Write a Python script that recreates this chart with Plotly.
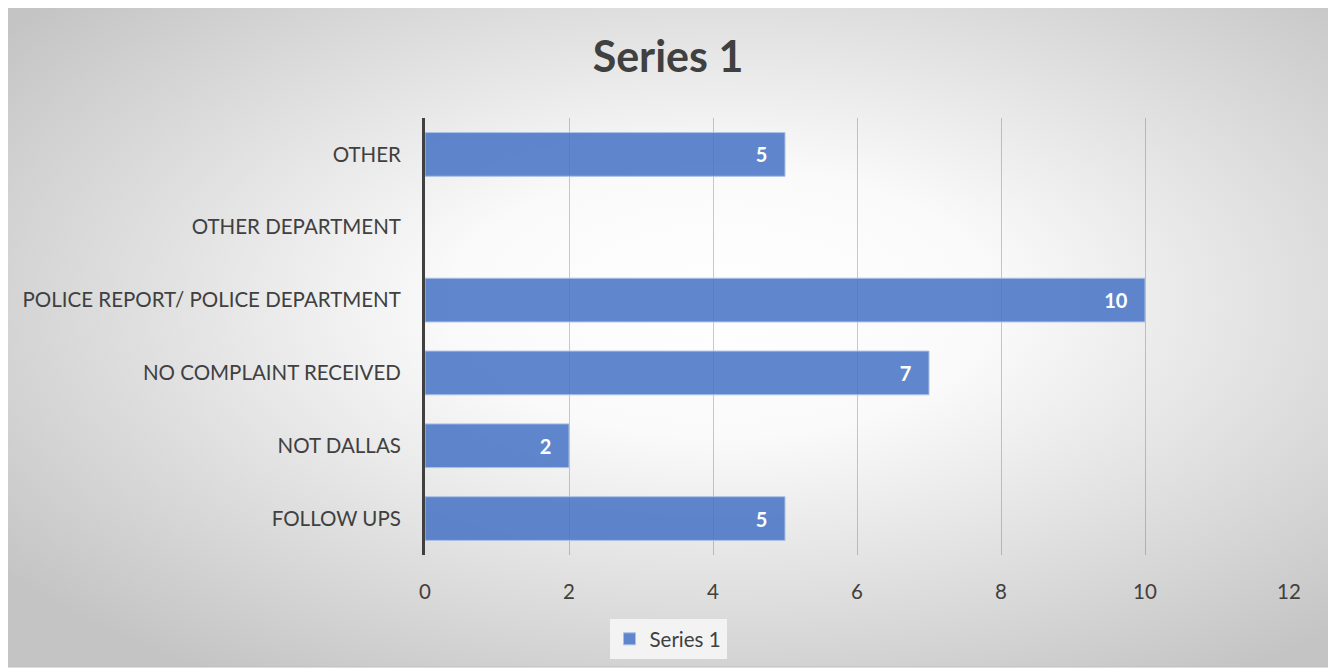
import base64
import plotly.graph_objects as go

categories = ["FOLLOW UPS", "NOT DALLAS", "NO COMPLAINT RECEIVED",
              "POLICE REPORT/ POLICE DEPARTMENT", "OTHER DEPARTMENT", "OTHER"]
values = [5, 2, 7, 10, None, 5]
labels = ["5", "2", "7", "10", "", "5"]
x_ticks = [0, 2, 4, 6, 8, 10, 12]
series_name = "Series 1"

OFF = 8  # page body margin offset
W, H = 1336 - OFF, 671 - OFF
L, R, T, B = 425 - OFF, 1289 - OFF, 118 - OFF, 555 - OFF  # plot area pixel edges
pw, ph = R - L, B - T

# frame (chart area) pixel edges
fx0, fy0, fx1, fy1 = 6 - OFF, 5 - OFF, 1330 - OFF, 667 - OFF

svg = f'''<svg xmlns="http://www.w3.org/2000/svg" width="{fx1-fx0}" height="{fy1-fy0}">
<defs><radialGradient id="g" cx="54%" cy="45%" r="68%">
<stop offset="0" stop-color="#ffffff"/><stop offset="0.3" stop-color="#fafafa"/>
<stop offset="1" stop-color="#c4c4c4"/></radialGradient></defs>
<rect width="100%" height="100%" fill="url(#g)"/></svg>'''
src = "data:image/svg+xml;base64," + base64.b64encode(svg.encode()).decode()

def px(x):
    return (x - OFF - L) / pw

def py(y):
    return (B - (y - OFF)) / ph

font = "Lato, 'Open Sans', sans-serif"
pad = "\u00a0" * 3

fig = go.Figure()
fig.add_trace(go.Bar(
    y=categories, x=values, orientation="h", name=series_name,
    text=[t + pad if t else "" for t in labels], textposition="inside", insidetextanchor="end",
    textfont=dict(color="white", size=20, family=font, weight="bold"),
    marker=dict(color="rgba(68,114,196,0.85)", line=dict(color="rgba(170,192,230,1)", width=1)),
    width=0.6, showlegend=True, cliponaxis=False,
))

fig.update_layout(
    width=W, height=H,
    margin=dict(l=L, r=W - R, t=T, b=H - B, pad=0),
    paper_bgcolor="white", plot_bgcolor="rgba(0,0,0,0)",
    font=dict(family=font, color="#404040", size=20),
    title=dict(text="<b>Series 1</b>", x=(668 - OFF) / W, xref="container", xanchor="center",
               y=1 - (57 - OFF) / H, yanchor="middle", font=dict(size=43, color="#404040", family=font)),
    xaxis=dict(range=[0, 12], tickvals=x_ticks, showgrid=True,
               gridcolor="rgba(90,90,90,0.32)", gridwidth=1, zeroline=False,
               showline=False, ticks="outside", ticklen=18, tickcolor="rgba(0,0,0,0)",
               tickfont=dict(size=20.5, color="#404040")),
    yaxis=dict(showline=True, linecolor="#404040", linewidth=3, showgrid=False,
               ticks="outside", ticklen=17, tickcolor="rgba(0,0,0,0)",
               tickfont=dict(size=20.5, color="#404040")),
    bargap=0.4,
    legend=dict(orientation="h", x=px(668), xanchor="center", y=py(639), yanchor="middle",
                bgcolor="#f3f3f3", font=dict(size=20.5, color="#404040"), itemwidth=30),
    images=[dict(source=src, xref="paper", yref="paper", x=px(6), y=py(5),
                 sizex=(fx1 - fx0) / pw, sizey=(fy1 - fy0) / ph, sizing="stretch",
                 layer="below", xanchor="left", yanchor="top")],
    shapes=[dict(type="rect", xref="paper", yref="paper", x0=px(6), x1=px(1330),
                 y0=py(667), y1=py(5), line=dict(color="#bfbfbf", width=1), layer="below")],
)

fig.write_html("out.html")
